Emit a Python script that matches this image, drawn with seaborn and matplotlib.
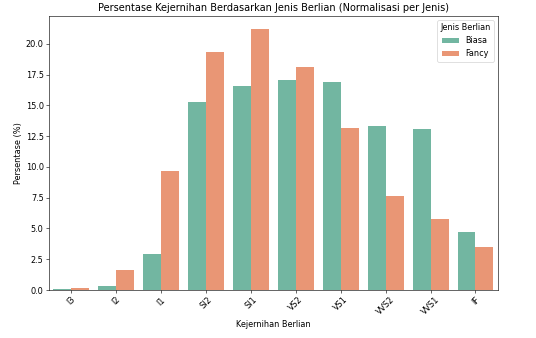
import matplotlib
matplotlib.use("Agg")
import matplotlib.pyplot as plt
import seaborn as sns
import pandas as pd

clarity = ["I3", "I2", "I1", "SI2", "SI1", "VS2", "VS1", "VVS2", "VVS1", "IF"]
biasa = [0.07, 0.3, 2.95, 15.3, 16.6, 17.05, 16.9, 13.3, 13.05, 4.7]
fancy = [0.17, 1.6, 9.65, 19.3, 21.2, 18.1, 13.15, 7.6, 5.8, 3.5]
types = ["Biasa", "Fancy"]

df = pd.DataFrame({
    "Kejernihan": clarity * 2,
    "Persentase": biasa + fancy,
    "Jenis Berlian": [types[0]] * len(clarity) + [types[1]] * len(clarity),
})

plt.rcParams["font.size"] = 10.9

fig, ax = plt.subplots(figsize=(10, 338 / 53.6), dpi=53.6)
sns.barplot(data=df, x="Kejernihan", y="Persentase", hue="Jenis Berlian",
            order=clarity, hue_order=types, palette="Set2", ax=ax)
ax.set_title("Persentase Kejernihan Berdasarkan Jenis Berlian (Normalisasi per Jenis)",
             fontsize=13.1)
ax.set_xlabel("Kejernihan Berlian")
ax.set_ylabel("Persentase (%)")
ax.tick_params(axis="x", rotation=45)
ax.legend(title="Jenis Berlian", loc="upper right")
fig.subplots_adjust(left=0.091, right=0.929, top=0.953, bottom=0.142)
fig.savefig("out.png", dpi=53.6)
